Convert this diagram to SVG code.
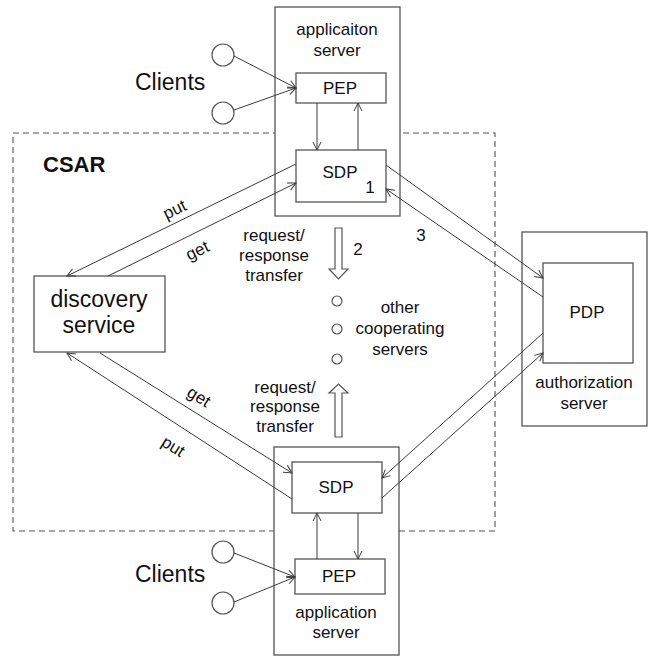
<svg xmlns="http://www.w3.org/2000/svg" width="652" height="658" viewBox="0 0 652 658">
<style>
  .box{fill:#fff;stroke:#555;stroke-width:1.3}
  .dash{fill:none;stroke:#555;stroke-width:1.1;stroke-dasharray:6,4}
  .ln{fill:none;stroke:#3a3a3a;stroke-width:1}
  .arr{marker-end:url(#ah)}
  .cl{fill:#fff;stroke:#555;stroke-width:1.2}
  .hollow{fill:#fff;stroke:#555;stroke-width:1.2}
  text{font-family:"Liberation Sans",Arial,sans-serif;fill:#111;font-size:17px}
  .mid{text-anchor:middle}
  .big{font-size:23px}
  .bold{font-weight:bold;font-size:22px}
</style>
<defs>
  <marker id="ah" viewBox="-10 -6 12 12" refX="0" refY="0" markerWidth="12" markerHeight="12" markerUnits="userSpaceOnUse" orient="auto">
    <path d="M-8,-4 L0,0 L-8,4" fill="none" stroke="#3a3a3a" stroke-width="1"/>
  </marker>
</defs>
<rect id="csar" class="dash" x="13" y="133" width="482" height="398"/>
<text class="bold" x="43" y="172">CSAR</text>

<g id="app-server-top">
  <rect class="box" x="275" y="7" width="125" height="209"/>
  <text class="mid" x="337" y="35">applicaiton</text>
  <text class="mid" x="337" y="56">server</text>
</g>
<g id="pep-top">
  <rect class="box" x="296" y="73" width="90" height="30"/>
  <text class="mid" x="340" y="94">PEP</text>
</g>
<g id="sdp-top">
  <rect class="box" x="296" y="150" width="90" height="52"/>
  <text class="mid" x="340" y="178">SDP</text>
  <text class="mid" x="370" y="193">1</text>
</g>
<g id="clients-top">
  <circle class="cl" cx="223" cy="55" r="11"/>
  <circle class="cl" cx="223" cy="113" r="11"/>
  <text class="big" x="135" y="90">Clients</text>
</g>
<g id="discovery">
  <rect class="box" x="34" y="276" width="131" height="76"/>
  <text class="mid big" x="99" y="307">discovery</text>
  <text class="mid big" x="99" y="333">service</text>
</g>
<g id="auth-server">
  <rect class="box" x="522" y="232" width="125" height="194"/>
  <text class="mid" x="584" y="388">authorization</text>
  <text class="mid" x="584" y="409">server</text>
</g>
<g id="pdp">
  <rect class="box" x="543" y="263" width="90" height="100"/>
  <text class="mid" x="587" y="318">PDP</text>
</g>
<g id="app-server-bottom">
  <rect class="box" x="274" y="447" width="125" height="208"/>
  <text class="mid" x="336" y="618">application</text>
  <text class="mid" x="336" y="638">server</text>
</g>
<g id="sdp-bottom">
  <rect class="box" x="292" y="462" width="90" height="51"/>
  <text class="mid" x="336" y="493">SDP</text>
</g>
<g id="pep-bottom">
  <rect class="box" x="295" y="559" width="90" height="35"/>
  <text class="mid" x="339" y="582">PEP</text>
</g>
<g id="clients-bottom">
  <circle class="cl" cx="223" cy="552" r="11"/>
  <circle class="cl" cx="223" cy="603" r="11"/>
  <text class="big" x="135" y="582">Clients</text>
</g>
<g id="other-servers">
  <circle class="cl" cx="337" cy="301" r="5"/>
  <circle class="cl" cx="337" cy="329" r="5"/>
  <circle class="cl" cx="337" cy="359" r="5"/>
  <text class="mid" x="400" y="313">other</text>
  <text class="mid" x="400" y="334">cooperating</text>
  <text class="mid" x="400" y="355">servers</text>
</g>

<g id="connectors">
  <line class="ln arr" x1="234" y1="56" x2="296" y2="88"/>
  <line class="ln arr" x1="234" y1="110" x2="296" y2="88"/>
  <line class="ln arr" x1="317" y1="103" x2="317" y2="150"/>
  <line class="ln arr" x1="358" y1="150" x2="358" y2="103"/>
  <line class="ln arr" x1="296" y1="164" x2="67" y2="276"/>
  <line class="ln arr" x1="108" y1="276" x2="296" y2="183"/>
  <line class="ln arr" x1="386" y1="165" x2="543" y2="278"/>
  <line class="ln arr" x1="543" y1="297" x2="386" y2="189"/>
  <line class="ln arr" x1="100" y1="353" x2="292" y2="473"/>
  <line class="ln arr" x1="292" y1="499" x2="67" y2="353"/>
  <line class="ln arr" x1="543" y1="333" x2="382" y2="478"/>
  <line class="ln arr" x1="382" y1="498" x2="543" y2="353"/>
  <line class="ln arr" x1="317" y1="559" x2="317" y2="513"/>
  <line class="ln arr" x1="358" y1="513" x2="358" y2="559"/>
  <line class="ln arr" x1="234" y1="553" x2="295" y2="577"/>
  <line class="ln arr" x1="234" y1="602" x2="295" y2="577"/>
  <polygon class="hollow" points="335,228 342,228 342,269 348,269 338.5,279 329,269 335,269"/>
  <polygon class="hollow" points="335,437 342,437 342,393 348,393 338.5,384 329,393 335,393"/>
  <text transform="translate(175,210) rotate(-26)" class="mid" x="0" y="5">put</text>
  <text transform="translate(198,252) rotate(-26)" class="mid" x="0" y="4">get</text>
  <text transform="translate(198,398) rotate(32)" class="mid" x="0" y="4">get</text>
  <text transform="translate(173,447) rotate(32)" class="mid" x="0" y="5">put</text>
  <text class="mid" x="358" y="255">2</text>
  <text class="mid" x="421" y="241">3</text>
  <text class="mid" x="274" y="241">request/</text>
  <text class="mid" x="274" y="261">response</text>
  <text class="mid" x="274" y="281">transfer</text>
  <text class="mid" x="285" y="393">request/</text>
  <text class="mid" x="285" y="412">response</text>
  <text class="mid" x="285" y="432">transfer</text>
</g>
</svg>
